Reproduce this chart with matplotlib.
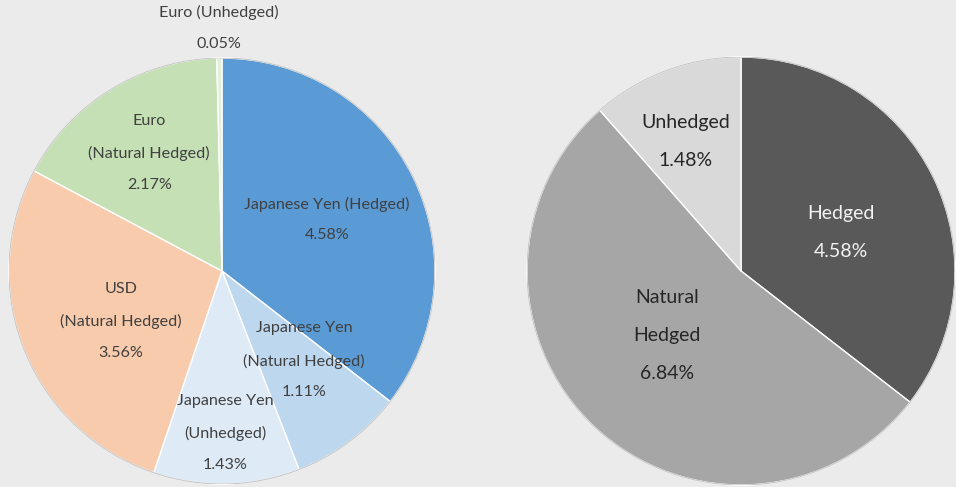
import numpy as np
import matplotlib.pyplot as plt

# left pie: currency exposure by hedge type (%)
left_labels = ['Japanese Yen (Hedged)', 'Japanese Yen\n(Natural Hedged)',
               'Japanese Yen\n(Unhedged)', 'USD\n(Natural Hedged)',
               'Euro\n(Natural Hedged)', 'Euro (Unhedged)']
left_values = [4.58, 1.11, 1.43, 3.56, 2.17, 0.05]
left_colors = ['#5b9bd5', '#bdd7ee', '#deebf7', '#f8cbad', '#c5e0b4', '#e2f0d9']
left_dist = [0.55, 0.57, 0.76, 0.53, 0.65, 1.14]
left_shift = [0, 6, 0, 4.5, 0, 0]  # degrees, nudges the label off the wedge middle

# right pie: totals by hedge type (%)
right_labels = ['Hedged', 'Natural\nHedged', 'Unhedged']
right_values = [4.58, 6.84, 1.48]
right_colors = ['#595959', '#a6a6a6', '#d9d9d9']
right_dist = [0.5, 0.46, 0.66]
right_shift = [-5, -5.7, 2.4]
right_text = ['#f2f2f2', '#262626', '#262626']

bg = '#ebebeb'
plt.rcParams['font.family'] = ['Lato', 'DejaVu Sans']

fig = plt.figure(figsize=(9.56, 4.87), dpi=100, facecolor=bg)
ax1 = fig.add_axes([0.0094, 0.0062, 0.4456, 0.8747])
ax2 = fig.add_axes([0.5513, 0.0041, 0.4477, 0.8789])


def draw(ax, values, labels, colors, dist, shift, tcolors, size):
    wedges, _ = ax.pie(values, colors=colors, startangle=90, counterclock=False,
                       radius=1, wedgeprops=dict(edgecolor='white', linewidth=1))
    for w, lab, v, d, s, tc in zip(wedges, labels, values, dist, shift, tcolors):
        mid = np.deg2rad((w.theta1 + w.theta2) / 2 + s)
        ax.text(d * np.cos(mid), d * np.sin(mid), f'{lab}\n{v:.2f}%',
                ha='center', va='center', fontsize=size, color=tc,
                linespacing=2.5, clip_on=False)
    ax.add_patch(plt.Circle((0, 0), 1.0, fill=False, edgecolor='#c8c8c8', lw=0.8))
    ax.set_xlim(-1, 1)
    ax.set_ylim(-1, 1)
    ax.set_aspect('equal')
    ax.axis('off')


draw(ax1, left_values, left_labels, left_colors, left_dist, left_shift,
     ['#404040'] * 6, 11.6)
draw(ax2, right_values, right_labels, right_colors, right_dist, right_shift,
     right_text, 14)

fig.savefig('out.png', dpi=100, facecolor=bg)
